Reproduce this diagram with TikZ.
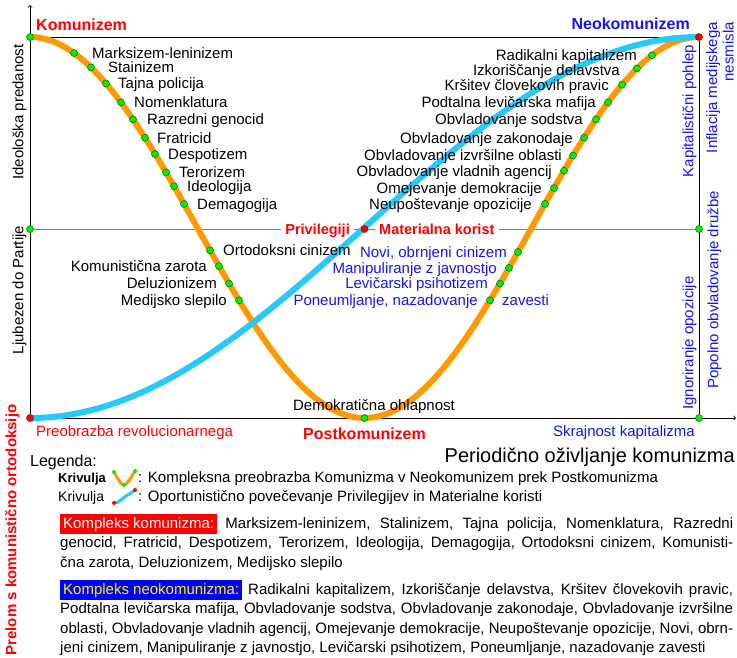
\documentclass[tikz,border=0pt]{standalone}
\usepackage{fontspec}
\setmainfont{Liberation Sans}
\pgfdeclarelayer{background}
\pgfsetlayers{background,main}
\definecolor{curveorange}{RGB}{255,153,0}
\definecolor{curveblue}{RGB}{40,200,250}
\definecolor{dotgreen}{RGB}{0,240,0}
\definecolor{textblue}{RGB}{20,20,245}
\tikzset{
  gdot/.style={circle,fill=dotgreen,draw=black!60!green,line width=0.5pt,minimum size=7pt,inner sep=0pt},
  rdot/.style={gdot,fill=red,draw=black!50!red},
  lbl/.style={inner sep=0pt,text height=10.7pt,text depth=0pt,font=\fontsize{15}{18}\selectfont},
  bluelbl/.style={lbl,text=textblue},
  redlbl/.style={lbl,text=red},
  boldlbl/.style={lbl,font=\fontsize{16}{19}\selectfont\bfseries,text height=11.5pt},
  privlbl/.style={lbl,text=red,font=\fontsize{14.5}{17}\selectfont\bfseries,text height=10.4pt,inner xsep=4pt},
  legendlbl/.style={lbl,font=\fontsize{15}{18}\selectfont,text height=10.7pt},
  axis/.style={line width=0.8pt,->},
  frameline/.style={line width=0.8pt},
  midline/.style={line width=1pt,draw=black!50},
  orangecurve/.style={line width=6pt,draw=curveorange},
  bluecurve/.style={line width=6pt,draw=curveblue},
  complex/.style={anchor=north west,inner sep=0pt,text width=673pt,align=justify,font=\fontsize{15}{19.5}\selectfont}
}
\begin{document}
\begin{tikzpicture}[x=1pt,y=-1pt]
\useasboundingbox (0,0) rectangle (737,657);
\draw
  (30,37) node[gdot] (k){}
  (699,37) node[rdot] (n){}
  (30,229) node[gdot] (l){}
  (364.5,229) node[rdot] (m){}
  (699,229) node[gdot] (r){}
  (30,418) node[rdot] (o){}
  (364.5,418) node[gdot] (p){}
  (699,418) node[gdot] (s){};
\coordinate (ytop) at (30,5);
\coordinate (xend) at (736,418);
\draw
  (74,53) node[gdot] (d1){}
  (91,67.4) node[gdot] (d2){}
  (106,83.5) node[gdot] (d3){}
  (121,102.4) node[gdot] (d4){}
  (133,119.4) node[gdot] (d5){}
  (145,137.7) node[gdot] (d6){}
  (155,153.9) node[gdot] (d7){}
  (166,172.4) node[gdot] (d8){}
  (174,186.2) node[gdot] (d9){}
  (184,203.9) node[gdot] (d10){}
  (210,250.3) node[gdot] (d11){}
  (219,266.1) node[gdot] (d12){}
  (229,283.5) node[gdot] (d13){}
  (239,300.3) node[gdot] (d14){};
\draw
  (652,55.3) node[gdot] (e1){}
  (637,68.4) node[gdot] (e2){}
  (622,84.7) node[gdot] (e3){}
  (608,102.4) node[gdot] (e4){}
  (596,119.4) node[gdot] (e5){}
  (584,137.7) node[gdot] (e6){}
  (573,155.5) node[gdot] (e7){}
  (564,170.7) node[gdot] (e8){}
  (554,188) node[gdot] (e9){}
  (545,203.9) node[gdot] (e10){}
  (518,252) node[gdot] (e11){}
  (509,267.9) node[gdot] (e12){}
  (500,283.5) node[gdot] (e13){}
  (490,300.3) node[gdot] (e14){};
\node[lbl,anchor=west] (a1) at (92,53) {Marksizem-leninizem};
\node[lbl,anchor=west] (a2) at (108,67.4) {Stainizem};
\node[lbl,anchor=west] (a3) at (118,83.5) {Tajna policija};
\node[lbl,anchor=west] (a4) at (134,102.4) {Nomenklatura};
\node[lbl,anchor=west] (a5) at (147,119.4) {Razredni genocid};
\node[lbl,anchor=west] (a6) at (157,137.7) {Fratricid};
\node[lbl,anchor=west] (a7) at (168,153.9) {Despotizem};
\node[lbl,anchor=west] (a8) at (179,172.4) {Terorizem};
\node[lbl,anchor=west] (a9) at (187,186.2) {Ideologija};
\node[lbl,anchor=west] (a10) at (197,203.9) {Demagogija};
\node[lbl,anchor=west] (a11) at (223,250.3) {Ortodoksni cinizem};
\node[lbl,anchor=east] (a12) at (207,266.1) {Komunistična zarota};
\node[lbl,anchor=east] (a13) at (217,283.5) {Deluzionizem};
\node[lbl,anchor=east] (a14) at (227,300.3) {Medijsko slepilo};
\node[lbl,anchor=east] (b1) at (637,55) {Radikalni kapitalizem};
\node[lbl,anchor=east] (b2) at (620,70) {Izkoriščanje delavstva};
\node[lbl,anchor=east] (b3) at (609,85.5) {Kršitev človekovih pravic};
\node[lbl,anchor=east] (b4) at (596,102.4) {Podtalna levičarska mafija};
\node[lbl,anchor=east] (b5) at (583,119.4) {Obvladovanje sodstva};
\node[lbl,anchor=east] (b6) at (573,137.7) {Obvladovanje zakonodaje};
\node[lbl,anchor=east] (b7) at (562,155.5) {Obvladovanje izvršilne oblasti};
\node[lbl,anchor=east] (b8) at (552,170.7) {Obvladovanje vladnih agencij};
\node[lbl,anchor=east] (b9) at (542,188) {Omejevanje demokracije};
\node[lbl,anchor=east] (b10) at (532,203.9) {Neupoštevanje opozicije};
\node[bluelbl,anchor=east] (b11) at (507,252) {Novi, obrnjeni cinizem};
\node[bluelbl,anchor=east] (b12) at (497,267.9) {Manipuliranje z javnostjo};
\node[bluelbl,anchor=east] (b13) at (488,283.5) {Levičarski psihotizem};
\node[bluelbl,anchor=east] (b14) at (478,300.3) {Poneumljanje, nazadovanje};
\node[bluelbl,anchor=west] (b15) at (502,300.3) {zavesti};
\node[privlbl,anchor=east] (pv) at (354,229) {Privilegiji};
\node[privlbl,anchor=west] (mk) at (375,229) {Materialna korist};
\node[boldlbl,text=red,anchor=west] (kom) at (36,25) {Komunizem};
\node[boldlbl,text=textblue,anchor=east] (neo) at (690,24) {Neokomunizem};
\node[lbl,rotate=90] (ip) at (18,112) {Ideološka predanost};
\node[lbl,rotate=90] (lp) at (18,290) {Ljubezen do Partije};
\node[lbl,rotate=90,text=red,font=\fontsize{15}{18}\selectfont\bfseries] (pr) at (11,530) {Prelom s komunistično ortodoksijo};
\node[bluelbl,rotate=90] (kp) at (688,111) {Kapitalistični pohlep};
\node[rotate=90,anchor=north east,align=right,inner sep=0pt,text=textblue,font=\fontsize{15}{16.5}\selectfont] (im) at (706,22) {Inflacija medijskega\\nesmisla};
\node[bluelbl,rotate=90] (po) at (713,290) {Popolno obvladovanje družbe};
\node[bluelbl,rotate=90] (io) at (688,343) {Ignoriranje opozicije};
\node[redlbl,anchor=west] (pb) at (36,431) {Preobrazba revolucionarnega};
\node[lbl] (dh) at (374,405) {Demokratična ohlapnost};
\node[boldlbl,text=red] (pk) at (364.5,434) {Postkomunizem};
\node[bluelbl,anchor=east] (sk) at (695,431) {Skrajnost kapitalizma};
\node[lbl,anchor=east,font=\fontsize{20}{24}\selectfont,text height=14.3pt] (pz) at (735,455) {Periodično oživljanje komunizma};
\node[lbl,anchor=west,font=\fontsize{16}{19}\selectfont,text height=11.5pt] (lg) at (30,461) {Legenda:};
\node[legendlbl,anchor=west,font=\fontsize{13}{16}\selectfont\bfseries] (kr1) at (58,477) {Krivulja};
\node[legendlbl,anchor=west,font=\fontsize{14}{17}\selectfont] (kr2) at (58,496) {Krivulja};
\node[legendlbl,anchor=west] (ld1) at (138,477) {: Kompleksna preobrazba Komunizma v Neokomunizem prek Postkomunizma};
\node[legendlbl,anchor=west] (ld2) at (138,496) {: Oportunistično povečevanje Privilegijev in Materialne koristi};
\draw[curveorange,line width=3pt] (114,472) .. controls (118,479) and (121,485) .. (124,485) .. controls (127,485) and (131,477) .. (135,471);
\fill[dotgreen] (114,472) circle (2) (124,485) circle (2) (135,471) circle (2);
\draw[curveblue,line width=3pt] (114,503) .. controls (120,503) and (122,498) .. (126,496) .. controls (130,494) and (132,492) .. (135,490);
\fill[red] (114,503) circle (2) (135,490) circle (2);
\node[complex] (kk) at (60,514) {\setlength{\fboxsep}{3pt}\colorbox{red}{\textcolor{white}{Kompleks komunizma:}} Marksizem-leninizem, Stalinizem, Tajna policija, Nomenklatura, Razredni\linebreak genocid, Fratricid, Despotizem, Terorizem, Ideologija, Demagogija, Ortodoksni cinizem, Komunisti-\linebreak čna zarota, Deluzionizem, Medijsko slepilo};
\node[complex] (kn) at (60,580) {\setlength{\fboxsep}{3pt}\colorbox{blue}{\textcolor{yellow}{Kompleks neokomunizma:}} Radikalni kapitalizem, Izkoriščanje delavstva, Kršitev človekovih pravic,\linebreak Podtalna levičarska mafija, Obvladovanje sodstva, Obvladovanje zakonodaje, Obvladovanje izvršilne\linebreak oblasti, Obvladovanje vladnih agencij, Omejevanje demokracije, Neupoštevanje opozicije, Novi, obrn-\linebreak jeni cinizem, Manipuliranje z javnostjo, Levičarski psihotizem, Poneumljanje, nazadovanje zavesti};
\begin{pgfonlayer}{background}
  \draw[axis] (o) -- (ytop);
  \draw[axis] (o) -- (xend);
  \draw[frameline] (k) -- (n) -- (s);
  \draw[midline] (l) -- (pv);
  \draw[midline] (pv) -- (m) -- (mk);
  \draw[midline] (mk) -- (r);
  \draw[orangecurve] plot[domain=30:699,samples=150] (\x,{227.5-190.5*cos(0.538117*(\x-30))});
  \draw[bluecurve] plot[domain=30:699,samples=150] (\x,{227.5+190.5*cos(0.269058*(\x-30))});
\end{pgfonlayer}
\end{tikzpicture}
\end{document}
